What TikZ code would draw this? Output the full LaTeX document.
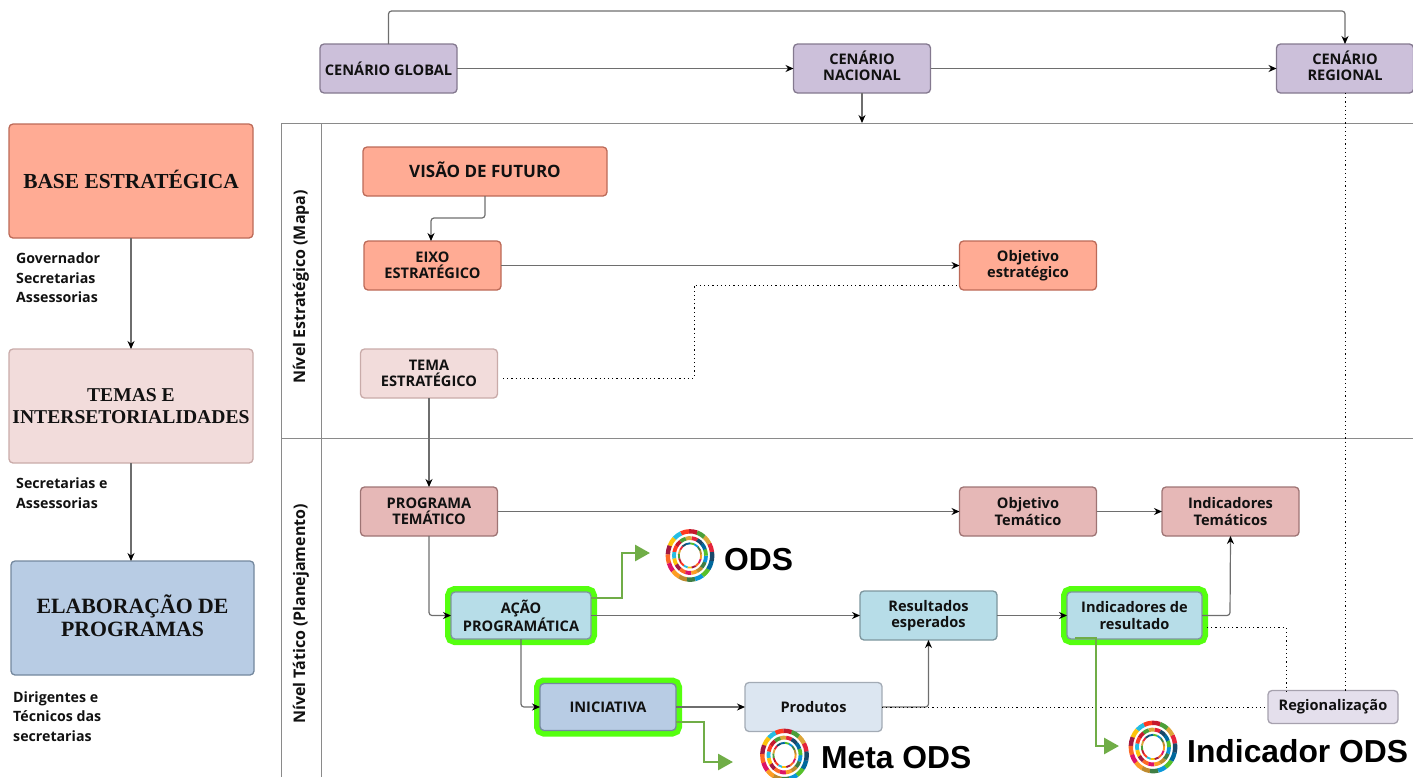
\documentclass[tikz,border=0pt]{standalone}
\usepackage{fontspec}
\setmainfont{Open Sans}
\newfontfamily\serifb{Liberation Serif}
\newfontfamily\arialb{Liberation Sans}
\usetikzlibrary{arrows.meta}
\definecolor{cSalmon}{HTML}{FFAB94}\definecolor{bSalmon}{HTML}{BC6A58}
\definecolor{cPale}{HTML}{F2DCDB}\definecolor{bPale}{HTML}{C9ABA9}
\definecolor{cRose}{HTML}{E6B8B7}\definecolor{bRose}{HTML}{9E7474}
\definecolor{cTeal}{HTML}{B7DDE8}\definecolor{bTeal}{HTML}{7D969E}
\definecolor{cBlue}{HTML}{B8CCE4}\definecolor{bBlue}{HTML}{74889E}
\definecolor{cIce}{HTML}{DCE6F1}\definecolor{bIce}{HTML}{A3ABB5}
\definecolor{cPurp}{HTML}{CCC0DA}\definecolor{bPurp}{HTML}{84798F}
\definecolor{cLav}{HTML}{E4DFEC}\definecolor{bLav}{HTML}{A6A1AE}
\definecolor{glow}{HTML}{55FF0F}\definecolor{leaf}{HTML}{70AD47}
\definecolor{wire}{HTML}{6E6E6E}\definecolor{ink}{HTML}{111111}
\definecolor{lanec}{HTML}{8A8A8A}
\definecolor{s1}{HTML}{E5243B}\definecolor{s2}{HTML}{DDA63A}\definecolor{s3}{HTML}{4C9F38}
\definecolor{s4}{HTML}{C5192D}\definecolor{s5}{HTML}{FF3A21}\definecolor{s6}{HTML}{26BDE2}
\definecolor{s7}{HTML}{FCC30B}\definecolor{s8}{HTML}{A21942}\definecolor{s9}{HTML}{FD6925}
\definecolor{s10}{HTML}{DD1367}\definecolor{s11}{HTML}{FD9D24}\definecolor{s12}{HTML}{BF8B2E}
\definecolor{s13}{HTML}{3F7E44}\definecolor{s14}{HTML}{0A97D9}\definecolor{s15}{HTML}{56C02B}
\definecolor{s16}{HTML}{00689D}\definecolor{s17}{HTML}{19486A}
\tikzset{
  box/.style={draw,rounded corners=4pt,line width=1.3pt,inner sep=0pt,outer sep=0pt,align=center,
    text=ink,font=\fontsize{14.6}{16.4}\selectfont\bfseries,minimum height=49pt,minimum width=137pt},
  bigbox/.style={box,minimum width=244pt,minimum height=114pt,
    font=\serifb\fontsize{21.4}{23}\selectfont\bfseries},
  glowbox/.style={preaction={draw=glow,line width=12pt,rounded corners=7pt}},
  conn/.style={draw=wire,line width=1.2pt,rounded corners=3pt,-{Stealth[length=8pt,width=7pt,color=black]}},
  dots/.style={draw=black,line width=1pt,dash pattern=on 1.2pt off 3pt},
  greenarrow/.style={draw=leaf,line width=2.8pt,-{Triangle[length=15pt,width=16pt,color=leaf]}},
  lane/.style={draw=lanec,line width=1pt},
  caption/.style={align=left,anchor=north west,inner sep=0pt,text=ink,font=\fontsize{14.2}{19.6}\selectfont\bfseries},
  lanelabel/.style={rotate=90,inner sep=0pt,text=ink,font=\fontsize{16}{17}\selectfont\bfseries},
  bigword/.style={anchor=west,inner sep=0pt,text=black,font=\arialb\fontsize{31.8}{34}\selectfont\bfseries},
}
\newcommand{\odsring}[3]{%
  \foreach \i [count=\k] in {s1,s2,s3,s4,s5,s6,s7,s8,s9,s10,s11,s12,s13,s14,s15,s16,s17}{
    \pgfmathsetmacro{\st}{#3+(\k-1)*360/17}
    \draw[draw=\i,line width=#2,line cap=butt] (\st:#1) arc[start angle=\st,delta angle=21.5,radius=#1];
  }}
\newcommand{\odslogo}[2]{%
  \begin{scope}[shift={(#1,#2)},yscale=1.09]
    \odsring{22.2pt}{4.4pt}{8}
    \odsring{16pt}{3.8pt}{63}
    \odsring{11.2pt}{1.9pt}{131}
  \end{scope}}
\begin{document}
\begin{tikzpicture}[x=1pt,y=-1pt]
\useasboundingbox (0,0) rectangle (1413,777);
% swimlanes
\draw[lane] (1413,123) -- (281,123) -- (281,777);
\draw[lane] (321,123) -- (321,777);
\draw[lane] (281,438) -- (1413,438);
\node[lanelabel] (laneA) at (301,287) {Nível Estratégico (Mapa)};
\node[lanelabel] (laneB) at (301,614) {Nível Tático (Planejamento)};
\coordinate (laneTop) at (862,123);
% left column
\node[bigbox,fill=cSalmon,draw=bSalmon,text depth=4pt] (base) at (131,181) {BASE ESTRATÉGICA};
\node[bigbox,fill=cPale,draw=bPale,font=\serifb\fontsize{19.6}{21.5}\selectfont\bfseries] (temas) at (131,406) {TEMAS E\\INTERSETORIALIDADES};
\node[bigbox,fill=cBlue,draw=bBlue,minimum width=243pt,text depth=5pt,font=\serifb\fontsize{21.8}{23}\selectfont\bfseries] (elab) at (132.5,618) {ELABORAÇÃO DE\\PROGRAMAS};
\node[caption] (capA) at (16,252.5) {Governador\\Secretarias\\Assessorias};
\node[caption] (capB) at (16,477.5) {Secretarias e\\Assessorias};
\node[caption] (capC) at (13,691) {Dirigentes e\\Técnicos das\\secretarias};
% top
\node[box,fill=cPurp,draw=bPurp] (global) at (388.5,68.5) {CENÁRIO GLOBAL};
\node[box,fill=cPurp,draw=bPurp,text depth=6pt] (nacional) at (862,68.5) {CENÁRIO\\NACIONAL};
\node[box,fill=cPurp,draw=bPurp,text depth=6pt] (regional) at (1345,68.5) {CENÁRIO\\REGIONAL};
% strategic
\node[box,fill=cSalmon,draw=bSalmon,minimum width=244pt,text depth=3pt,font=\fontsize{17}{18}\selectfont\bfseries] (visao) at (485,171.5) {VISÃO DE FUTURO};
\node[box,fill=cSalmon,draw=bSalmon] (eixo) at (432.5,265.5) {EIXO\\ESTRATÉGICO};
\node[box,fill=cSalmon,draw=bSalmon] (objE) at (1028,265.5) {Objetivo\\estratégico};
\node[box,fill=cPale,draw=bPale] (tema) at (429,373.5) {TEMA\\ESTRATÉGICO};
% tactical
\node[box,fill=cRose,draw=bRose] (prog) at (429,511.5) {PROGRAMA\\TEMÁTICO};
\node[box,fill=cRose,draw=bRose] (objT) at (1028,511.5) {Objetivo\\Temático};
\node[box,fill=cRose,draw=bRose] (indT) at (1230.5,511.5) {Indicadores\\Temáticos};
\node[box,glowbox,fill=cTeal,draw=bTeal,minimum width=140pt,minimum height=47pt] (acao) at (521,615.5) {AÇÃO\\PROGRAMÁTICA};
\node[box,fill=cTeal,draw=bTeal] (res) at (928.5,615.5) {Resultados\\esperados};
\node[box,glowbox,fill=cTeal,draw=bTeal,minimum width=135pt,minimum height=47pt] (indR) at (1134.5,615.5) {Indicadores de\\resultado};
\node[box,glowbox,fill=cBlue,draw=bBlue,minimum width=136pt,minimum height=47pt] (inic) at (608,707) {INICIATIVA};
\node[box,fill=cIce,draw=bIce] (prod) at (813.5,707) {Produtos};
\node[box,fill=cLav,draw=bLav,minimum width=130pt,minimum height=33pt] (regz) at (1333,707) {Regionalização};
% connectors
\draw[conn] (base.south) -- (temas.north);
\draw[conn] (temas.south) -- (elab.north -| temas.south);
\draw[conn] (global.north) -- (388.5,11) -- (1345,11) -- (regional.north);
\draw[conn] (global.east) -- (nacional.west);
\draw[conn] (nacional.east) -- (regional.west);
\draw[conn] (nacional.south) -- (laneTop);
\draw[conn] (visao.south) -- (485,218) -- (431,218) -- (431,241);
\draw[conn] (eixo.east) -- (objE.west);
\draw[conn] (tema.south) -- (prog.north);
\draw[conn] (prog.east) -- (objT.west);
\draw[conn] (objT.east) -- (indT.west);
\draw[conn] (prog.south) -- (429,615.5) -- (acao.west);
\draw[conn] (acao.east) -- (res.west);
\draw[conn] (res.east) -- (indR.west);
\draw[conn] (acao.south) -- (521,707) -- (inic.west);
\draw[conn] (inic.east) -- (prod.west);
\draw[conn] (prod.east) -- (928.5,707) -- (res.south);
\draw[conn] (indR.east) -- (1230,615.5) -- (indT.south);
\coordinate (temaOut) at (503,378);
\draw[dots] (temaOut) -- (694,378) -- (694,285) -- (objE.west |- 0,285);
\draw[dots] (regional.south) -- (regional.south |- regz.north);
\draw[dots] (prod.east) -- (regz.west);
\coordinate (indROut) at (1207,627);
\draw[dots] (indROut) -- (1286,627) -- (1286,691);
% green arrows
\coordinate (gA) at (650,553);
\coordinate (gB) at (733,762);
\coordinate (gC) at (1119,746);
\draw[greenarrow] (acao.east |- 0,598) -- (622,598) -- (622,553) -- (gA);
\draw[greenarrow] (inic.east |- 0,722) -- (704,722) -- (704,762) -- (gB);
\draw[greenarrow] (1075,638) -- (1096,638) -- (1096,746) -- (gC);
% logos
\odslogo{690}{555.5}
\odslogo{784.5}{755}
\odslogo{1153}{747}
\node[bigword] (wA) at (724,560) {ODS};
\node[bigword] (wB) at (821,758) {Meta ODS};
\node[bigword] (wC) at (1187,751) {Indicador ODS};
\end{tikzpicture}
\end{document}
